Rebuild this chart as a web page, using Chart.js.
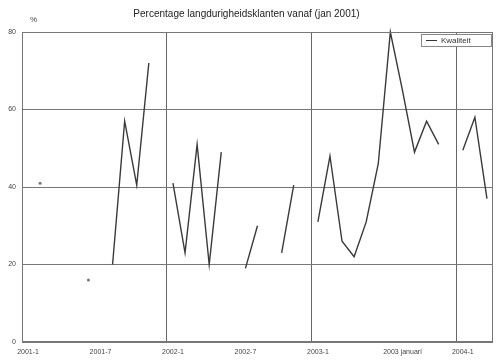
<!DOCTYPE html>
<html>
<head>
<meta charset="utf-8">
<script src="https://cdn.jsdelivr.net/npm/chart.js@4.4.0/dist/chart.umd.min.js"></script>
<style>
    html, body { margin: 0; padding: 0; background: #fff; }
    #wrap { width: 496px; height: 362px; }
</style>
</head>
<body>
<div id="wrap"><canvas id="chart" width="496" height="362"></canvas></div>
<script>
// months on the x axis (39 of them), only a few get a visible label
const months = [];
for (let i = 0; i < 39; i++) months.push('m' + i);
const tickIndex = [0, 6, 12, 18, 24, 31, 36];
const tickText = ['2001-1', '2001-7', '2002-1', '2002-7', '2003-1', '2003 januari', '2004-1'];

// percentage per month, gaps where nothing was recorded
const percentage = [
    null, 41, null, null, null, 16, null, 20, 57, 40.5,
    72, null, 41, 23, 51, 20, 49, null, 19, 30,
    null, 23, 40.5, null, 31, 48, 26, 22, 31, 46,
    80, 65, 49, 57, 51, null, 49.5, 58, 37
];

const yTicks = [0, 20, 40, 60, 80];
const seriesName = 'Kwaliteit';

const font = "'Liberation Sans', Arial, sans-serif";

// plot frame, % label and small legend box
const frame = {
    id: 'frame',
    afterDraw(chart) {
        const { ctx, chartArea: a } = chart;
        ctx.save();
        ctx.strokeStyle = '#777';
        ctx.lineWidth = 1;
        ctx.strokeRect(a.left + 0.5, a.top + 0.5, a.right - a.left - 1, a.bottom - a.top - 1);

        ctx.fillStyle = '#444';
        ctx.font = '8px ' + font;
        ctx.textAlign = 'left';
        ctx.textBaseline = 'middle';
        ctx.fillText('%', a.left + 8, a.top - 12);

        // legend
        const lx = a.right - 72, ly = a.top + 2;
        ctx.fillStyle = '#fff';
        ctx.fillRect(lx, ly, 70, 12);
        ctx.strokeStyle = '#888';
        ctx.strokeRect(lx + 0.5, ly + 0.5, 70, 12);
        ctx.strokeStyle = '#333';
        ctx.beginPath();
        ctx.moveTo(lx + 5, ly + 6.5);
        ctx.lineTo(lx + 16, ly + 6.5);
        ctx.stroke();
        ctx.fillStyle = '#333';
        ctx.font = '8px ' + font;
        ctx.fillText(seriesName, lx + 20, ly + 7);
        ctx.restore();
    }
};

new Chart(document.getElementById('chart'), {
    type: 'line',
    data: {
        labels: months,
        datasets: [{
            label: seriesName,
            data: percentage,
            borderColor: '#3a3a3a',
            borderWidth: 1.4,
            tension: 0,
            spanGaps: false,
            clip: false,
            pointRadius: ctx => {
                const i = ctx.dataIndex;
                const isolated = percentage[i] !== null &&
                    percentage[i - 1] == null && percentage[i + 1] == null;
                return isolated ? 1.5 : 0;
            },
            pointBackgroundColor: '#777',
            pointBorderWidth: 0
        }]
    },
    options: {
        responsive: false,
        animation: false,
        layout: { padding: { left: 0, right: 3, top: 0, bottom: 0 } },
        plugins: {
            legend: { display: false },
            tooltip: { enabled: false },
            title: {
                display: true,
                text: 'Percentage langdurigheidsklanten vanaf (jan 2001)',
                color: '#222',
                font: { family: font, size: 10, weight: 'normal' },
                padding: { top: 8, bottom: 12 }
            }
        },
        scales: {
            x: {
                offset: true,
                grid: {
                    offset: true,
                    color: c => (c.index % 12 === 0 && c.index > 0) ? '#666' : 'rgba(0,0,0,0)',
                    drawTicks: false
                },
                border: { display: false },
                ticks: {
                    autoSkip: false,
                    maxRotation: 0,
                    padding: 6,
                    color: '#444',
                    font: { family: font, size: 7 },
                    callback: (v, i) => {
                        const k = tickIndex.indexOf(i);
                        return k >= 0 ? tickText[k] : '';
                    }
                },
                afterFit: s => { s.height = 20; }
            },
            y: {
                min: 0,
                max: 80,
                afterBuildTicks: s => { s.ticks = yTicks.map(v => ({ value: v })); },
                grid: { color: '#777', drawTicks: false },
                border: { display: false },
                ticks: {
                    padding: 6,
                    color: '#444',
                    font: { family: font, size: 7 }
                },
                afterFit: s => { s.width = 22; }
            }
        }
    },
    plugins: [frame]
});
</script>
</body>
</html>
